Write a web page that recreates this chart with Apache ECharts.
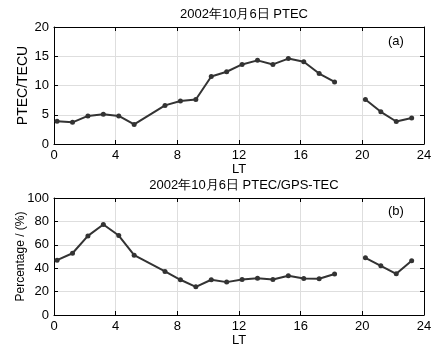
<!DOCTYPE html>
<html><head><meta charset="utf-8">
<script src="https://cdn.jsdelivr.net/npm/echarts@6/dist/echarts.min.js"></script>
<style>html,body{margin:0;padding:0;background:#fff}#c{width:442px;height:350px}</style>
</head><body><div id="c"></div>
<script>
const hours = [0.2,1.2,2.2,3.2,4.2,5.2,7.2,8.2,9.2,10.2,11.2,12.2,13.2,14.2,15.2,16.2,17.2,18.2,19.2,20.2,21.2,22.2,23.2];
const ptec = [3.9,3.7,4.8,5.1,4.8,3.35,6.6,7.35,7.6,11.55,12.35,13.6,14.3,13.6,14.6,14.05,12.05,10.6,null,7.6,5.5,3.85,4.45];
const pct = [46.9,52.8,67.6,77.3,67.9,51.1,37.2,30.1,24.1,30.1,28.1,30.4,31.5,30.4,33.5,31.2,31,35,null,48.9,42,35.2,46.3];
const xTicks = [0,4,8,12,16,20,24];
const titleA = '2002年10月6日 PTEC';
const titleB = '2002年10月6日 PTEC/GPS-TEC';

const font = 'Liberation Sans, Arial, sans-serif';
const chart = echarts.init(document.getElementById('c'));
function pairs(ys){return hours.map((h,i)=>[h, ys[i]]);}
const tick = {show:true,inside:true,length:4,lineStyle:{color:'#000'}};
const grey = {show:true,lineStyle:{color:'#dedede',width:1}};
function xAx(gi){
  return {type:'value', gridIndex:gi, min:xTicks[0], max:xTicks[xTicks.length-1], interval:4,
    name:'LT', nameLocation:'middle', nameGap:19, nameMoveOverlap:false,
    nameTextStyle:{color:'#000',fontSize:13,fontFamily:font},
    axisLine:{show:true,onZero:false,lineStyle:{color:'#000',width:1}},
    axisTick:tick,
    axisLabel:{color:'#000',fontSize:13,fontFamily:font,margin:5},
    splitLine:grey};
}
function xTop(gi){
  return {type:'value', gridIndex:gi, position:'top', min:xTicks[0], max:xTicks[xTicks.length-1], interval:4,
    axisLine:{show:true,onZero:false,lineStyle:{color:'#000',width:1}},
    axisTick:tick, axisLabel:{show:false}, splitLine:{show:false}};
}
function yAx(gi,max,interval,name,gap,fs){
  return {type:'value', gridIndex:gi, min:0, max:max, interval:interval,
    name:name, nameLocation:'middle', nameGap:gap, nameMoveOverlap:false,
    nameTextStyle:{color:'#000',fontSize:fs,fontFamily:font},
    axisLine:{show:true,onZero:false,lineStyle:{color:'#000',width:1}},
    axisTick:tick,
    axisLabel:{color:'#000',fontSize:13,fontFamily:font,margin:5},
    splitLine:grey};
}
function yRight(gi,max,interval){
  return {type:'value', gridIndex:gi, position:'right', min:0, max:max, interval:interval,
    axisLine:{show:true,onZero:false,lineStyle:{color:'#000',width:1}},
    axisTick:tick, axisLabel:{show:false}, splitLine:{show:false}};
}
const lineStyle = {color:'#333',width:2};
chart.setOption({
  animation:false,
  backgroundColor:'#fff',
  title:[
    {text:titleA,left:239,top:3,textAlign:'center',textStyle:{fontSize:13,fontWeight:'normal',color:'#000',fontFamily:font}},
    {text:titleB,left:239,top:174,textAlign:'center',textStyle:{fontSize:13,fontWeight:'normal',color:'#000',fontFamily:font}}
  ],
  grid:[
    {left:54,right:18,top:27,height:117},
    {left:54,right:18,top:198,height:117}
  ],
  xAxis:[xAx(0),xAx(1),xTop(0),xTop(1)],
  yAxis:[yAx(0,20,5,'PTEC/TECU',24,14),yAx(1,100,20,'Percentage / (%)',27,12),yRight(0,20,5),yRight(1,100,20)],
  graphic:[
    {type:'text',left:388,top:35,style:{text:'(a)',fontSize:13,fontFamily:font,fill:'#000'}},
    {type:'text',left:388,top:205,style:{text:'(b)',fontSize:13,fontFamily:font,fill:'#000'}}
  ],
  series:[
    {type:'line',xAxisIndex:0,yAxisIndex:0,data:pairs(ptec),connectNulls:false,symbol:'circle',symbolSize:5,lineStyle:lineStyle,itemStyle:{color:'#333'}},
    {type:'line',xAxisIndex:1,yAxisIndex:1,data:pairs(pct),connectNulls:false,symbol:'circle',symbolSize:5,lineStyle:lineStyle,itemStyle:{color:'#333'}}
  ]
});
</script></body></html>
